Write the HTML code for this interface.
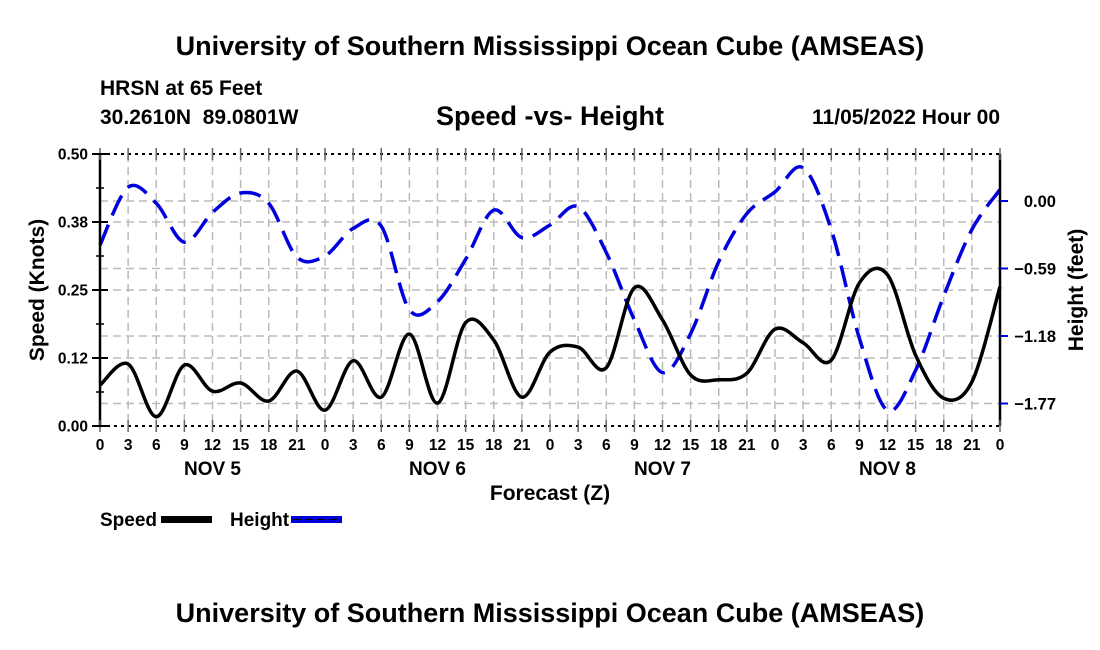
<!DOCTYPE html>
<html><head><meta charset="utf-8"><style>
body{margin:0;background:#fff;width:1100px;height:650px;overflow:hidden;font-family:"Liberation Sans",sans-serif;}
svg{display:block}
text{font-family:"Liberation Sans",sans-serif;font-weight:bold;fill:#000;white-space:pre}
</style></head><body>
<svg id="chart" width="1100" height="650">
<text x="550" y="55" font-size="27" text-anchor="middle">University of Southern Mississippi Ocean Cube (AMSEAS)</text>
<text x="100" y="95" font-size="21">HRSN at 65 Feet</text>
<text x="100" y="124" font-size="21" xml:space="preserve">30.2610N  89.0801W</text>
<text x="550" y="125" font-size="27" text-anchor="middle">Speed -vs- Height</text>
<text x="1000" y="124" font-size="21" text-anchor="end">11/05/2022 Hour 00</text>
<g id="grid"></g>
<g id="marks"></g>
<g id="axes"></g>
<text transform="translate(44,290) rotate(-90)" font-size="21" text-anchor="middle">Speed (Knots)</text>
<text transform="translate(1083,290) rotate(-90)" font-size="21" text-anchor="middle">Height (feet)</text>
<text x="550" y="500" font-size="21" text-anchor="middle">Forecast (Z)</text>
<g>
<text x="100" y="526" font-size="19">Speed</text>
<rect x="161" y="516" width="51" height="7" fill="#000"/>
<text x="230" y="526" font-size="19">Height</text>
<rect x="291" y="516" width="51" height="7" fill="#0000dd"/>
<line x1="293" y1="519.5" x2="342" y2="519.5" stroke="#000" stroke-width="1" stroke-dasharray="8,4"/>
</g>
<text x="550" y="622" font-size="27" text-anchor="middle">University of Southern Mississippi Ocean Cube (AMSEAS)</text>
</svg>
<script>
const hours = [0,3,6,9,12,15,18,21,24,27,30,33,36,39,42,45,48,51,54,57,60,63,66,69,72,75,78,81,84,87,90,93,96];
const speed = [0.075,0.114,0.017,0.112,0.064,0.079,0.046,0.101,0.029,0.12,0.053,0.169,0.042,0.19,0.158,0.053,0.136,0.145,0.107,0.254,0.195,0.094,0.085,0.097,0.178,0.153,0.121,0.263,0.278,0.13,0.051,0.081,0.256];
const height = [-0.385,0.12,-0.02,-0.36,-0.10,0.07,-0.02,-0.49,-0.48,-0.24,-0.22,-0.95,-0.88,-0.51,-0.08,-0.32,-0.21,-0.05,-0.45,-1.04,-1.5,-1.16,-0.53,-0.11,0.08,0.29,-0.25,-1.2,-1.83,-1.48,-0.83,-0.25,0.1];
const xTickLabels = ["0","3","6","9","12","15","18","21"];
const dayLabels = ["NOV 5","NOV 6","NOV 7","NOV 8"];
const leftTicks = [0,0.125,0.25,0.375,0.5];
const leftTickLabels = ["0.00","0.12","0.25","0.38","0.50"];
const rightTicks = [0,-0.59,-1.18,-1.77];
const rightTickLabels = ["0.00","\u22120.59","\u22121.18","\u22121.77"];

const X0=100,X1=1000,Y0=426,Y1=154;
const xs=h=>X0+(h/96)*(X1-X0);
const yL=v=>Y0-(v/0.5)*(Y0-Y1);
const yR=v=>201-v*(67.5/0.59);
const NS="http://www.w3.org/2000/svg";
function mk(tag,attrs,parent){const e=document.createElementNS(NS,tag);for(const k in attrs)e.setAttribute(k,attrs[k]);parent.appendChild(e);return e;}
const grid=document.getElementById('grid'),marks=document.getElementById('marks'),axes=document.getElementById('axes');
for(let h=3;h<96;h+=3){const l=mk('line',{x1:xs(h),x2:xs(h),y1:Y1,y2:Y0,stroke:'#bbb','stroke-width':1.5,'stroke-dasharray':'8,5'},grid);

}
leftTicks.slice(1,4).forEach(v=>{const l=mk('line',{x1:X0,x2:X1,y1:yL(v),y2:yL(v),stroke:'#bbb','stroke-width':1.5,'stroke-dasharray':'8,5'},grid);

});
rightTicks.forEach(v=>{const l=mk('line',{x1:X0,x2:X1,y1:yR(v),y2:yR(v),stroke:'#bbb','stroke-width':1.5,'stroke-dasharray':'8,5'},grid);

});
function smooth(pts){let d=`M${pts[0][0]},${pts[0][1]}`;for(let i=0;i<pts.length-1;i++){const p0=pts[Math.max(0,i-1)],p1=pts[i],p2=pts[i+1],p3=pts[Math.min(pts.length-1,i+2)];
d+=` C${p1[0]+(p2[0]-p0[0])/6},${p1[1]+(p2[1]-p0[1])/6} ${p2[0]-(p3[0]-p1[0])/6},${p2[1]-(p3[1]-p1[1])/6} ${p2[0]},${p2[1]}`;}return d;}
const hp=mk('path',{d:smooth(hours.map((h,i)=>[xs(h),yR(height[i])])),fill:'none',stroke:'#0000dd','stroke-width':3.5,'stroke-dasharray':'22,10'},marks);


const sp=mk('path',{d:smooth(hours.map((h,i)=>[xs(h),yL(speed[i])])),fill:'none',stroke:'#000','stroke-width':3.5},marks);


[[X0,Y0,X1,Y0],[X0,Y1,X1,Y1]].forEach(c=>{const l=mk('line',{x1:c[0],y1:c[1],x2:c[2],y2:c[3],stroke:'#000','stroke-width':2,'stroke-dasharray':'3,4'},axes);

});
const la=mk('line',{x1:X0,y1:Y1,x2:X0,y2:Y0,stroke:'#000','stroke-width':2.5},axes);


const ra=mk('line',{x1:X1,y1:Y1,x2:X1,y2:Y0,stroke:'#000','stroke-width':2.5},axes);


for(let h=0;h<=96;h+=3){mk('line',{x1:xs(h),x2:xs(h),y1:Y0-6,y2:Y0+6,stroke:'#666','stroke-width':1.5},axes);
mk('line',{x1:xs(h),x2:xs(h),y1:Y1-6,y2:Y1+6,stroke:'#666','stroke-width':1.5},axes);
const t=mk('text',{x:xs(h),y:450,'font-size':15.5,'text-anchor':'middle'},axes);t.textContent=xTickLabels[(h/3)%8];

}
dayLabels.forEach((d,i)=>{const t=mk('text',{x:xs(12+24*i),y:475,'font-size':19,'text-anchor':'middle'},axes);t.textContent=d;

});
leftTicks.forEach((v,i)=>{mk('line',{x1:X0-8,x2:X0+8,y1:yL(v),y2:yL(v),stroke:'#000','stroke-width':2},axes);
const t=mk('text',{x:88,y:yL(v)+5.5,'font-size':15.5,'text-anchor':'end'},axes);t.textContent=leftTickLabels[i];

});
for(let v=0.0625;v<0.5;v+=0.125)mk('line',{x1:X0-4,x2:X0+4,y1:yL(v),y2:yL(v),stroke:'#000','stroke-width':1.5},axes);
rightTicks.forEach((v,i)=>{mk('line',{x1:X1,x2:X1+8,y1:yR(v),y2:yR(v),stroke:'#0000dd','stroke-width':2},axes);
const t=mk('text',{x:1056,y:yR(v)+6,'font-size':16.5,'text-anchor':'end'},axes);t.textContent=rightTickLabels[i];

});
</script>
</body></html>
